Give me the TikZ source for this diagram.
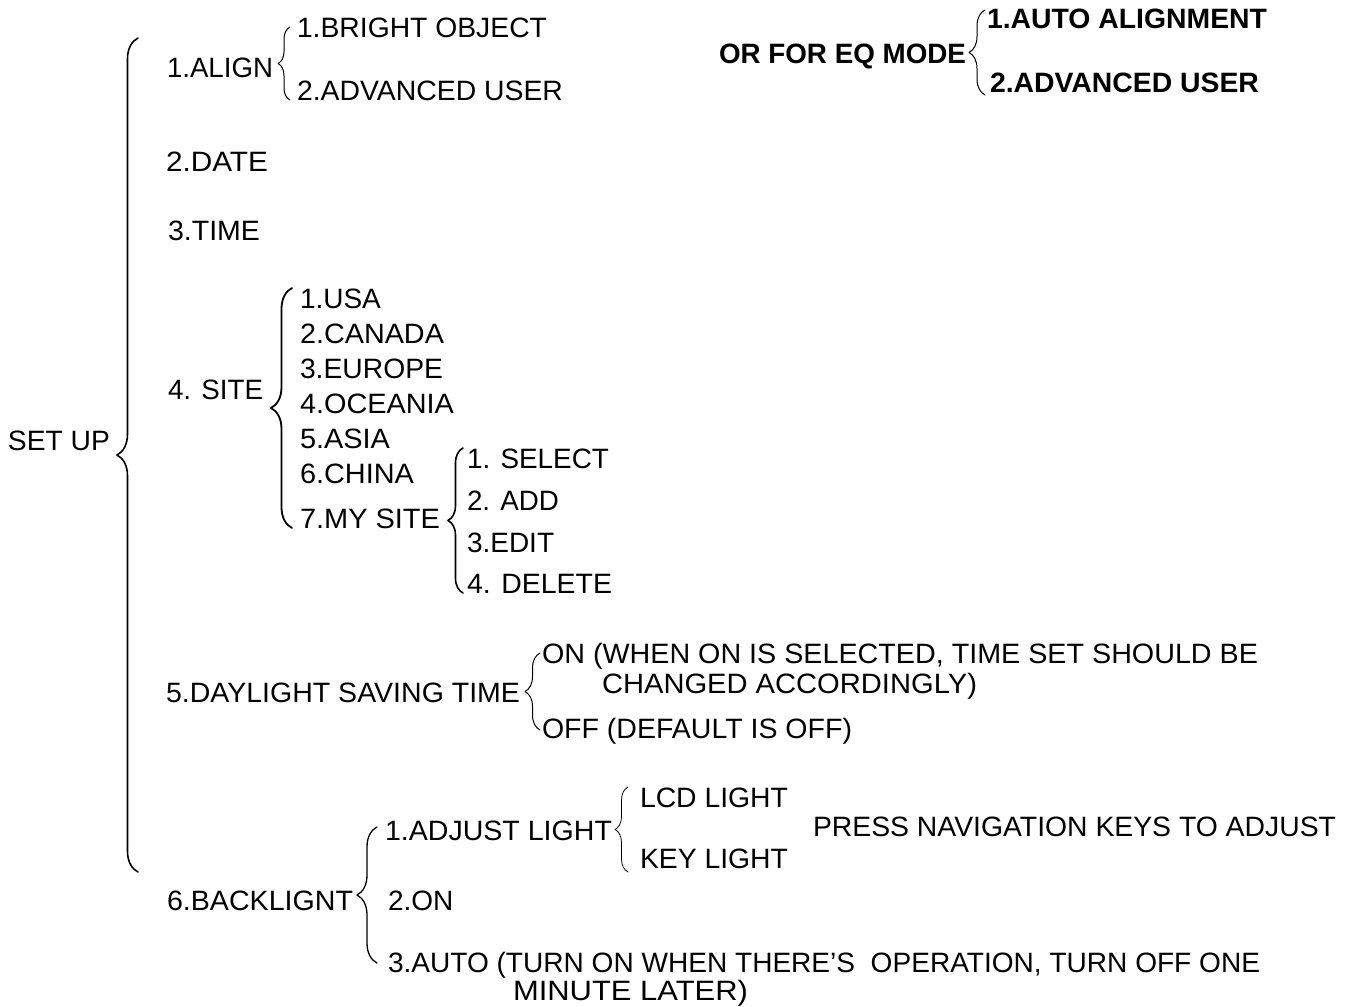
\documentclass[tikz,border=0pt]{standalone}
\usepackage{fontspec}
\usepackage{graphicx}
\setmainfont{Liberation Sans}
\usetikzlibrary{decorations.pathreplacing}
\newsavebox\fitbox
\newcommand\fitto[2]{\sbox\fitbox{#2}\pgfmathsetmacro\fitf{#1/\wd\fitbox}\scalebox{\fitf}[1]{\usebox\fitbox}}
\tikzset{
  lbl/.style={inner sep=0pt, outer sep=0pt, anchor=base west, font=\fontsize{28}{30}\selectfont},
  blbl/.style={lbl, font=\fontsize{28}{30}\selectfont\bfseries},
  curly/.style={draw, line width=#1, decorate, line cap=round, line join=round},
  amp/.style={decoration={brace, amplitude=#1}},
}
\begin{document}
\begin{tikzpicture}[x=1pt, y=-1pt]
\useasboundingbox (0,0) rectangle (1353,1007);
% nodes
\node[lbl] (setup) at (8,450) {\fitto{102}{SET UP}};
\node[lbl] (align) at (167,77) {\fitto{106}{1.ALIGN}};
\node[lbl] (bright) at (297,37) {\fitto{250}{1.BRIGHT OBJECT}};
\node[lbl] (adv) at (297,100) {\fitto{266}{2.ADVANCED USER}};
\node[blbl] (eqmode) at (719,63) {\fitto{247}{OR FOR EQ MODE}};
\node[blbl] (auto) at (987,28) {\fitto{280}{1.AUTO ALIGNMENT}};
\node[blbl] (adv2) at (990,92) {\fitto{269}{2.ADVANCED USER}};
\node[lbl] (date) at (166,171) {\fitto{102}{2.DATE}};
\node[lbl] (time) at (168,240) {\fitto{92}{3.TIME}};
\node[lbl] (site) at (168,399) {\fitto{95}{4. SITE}};
\node[lbl] (usa) at (300,308) {1.USA};
\node[lbl] (canada) at (300,343) {\fitto{144}{2.CANADA}};
\node[lbl] (europe) at (300,378) {\fitto{143}{3.EUROPE}};
\node[lbl] (oceania) at (300,413) {\fitto{154}{4.OCEANIA}};
\node[lbl] (asia) at (300,448) {\fitto{90}{5.ASIA}};
\node[lbl] (china) at (300,483) {\fitto{114}{6.CHINA}};
\node[lbl] (mysite) at (300,528) {\fitto{140}{7.MY SITE}};
\node[lbl] (select) at (467,468) {\fitto{142}{1. SELECT}};
\node[lbl] (add) at (467,510) {\fitto{92}{2. ADD}};
\node[lbl] (edit) at (467,552) {3.EDIT};
\node[lbl] (delete) at (467,593) {\fitto{145}{4. DELETE}};
\node[lbl] (dst) at (166,702) {\fitto{354}{5.DAYLIGHT SAVING TIME}};
\node[lbl] (on) at (542,663) {\fitto{716}{ON (WHEN ON IS SELECTED, TIME SET SHOULD BE}};
\node[lbl] (changed) at (602,693) {\fitto{375}{CHANGED ACCORDINGLY)}};
\node[lbl] (off) at (542,738) {\fitto{310}{OFF (DEFAULT IS OFF)}};
\node[lbl] (backlight) at (167,910) {\fitto{186}{6.BACKLIGNT}};
\node[lbl] (adjust) at (385,840) {\fitto{227}{1.ADJUST LIGHT}};
\node[lbl] (lcd) at (640,807) {\fitto{148}{LCD LIGHT}};
\node[lbl] (key) at (640,868) {\fitto{148}{KEY LIGHT}};
\node[lbl] (press) at (813,836) {\fitto{523}{PRESS NAVIGATION KEYS TO ADJUST}};
\node[lbl] (on2) at (388,910) {2.ON};
\node[lbl] (autoo) at (388,972) {\fitto{872}{3.AUTO (TURN ON WHEN THERE’S\ \ OPERATION, TURN OFF ONE}};
\node[lbl] (minute) at (513,1000) {\fitto{235}{MINUTE LATER)}};
% brace end points
\coordinate (bigT) at (138,38);   \coordinate (bigB) at (138,872);
\coordinate (alT) at (290,27);    \coordinate (alB) at (290,100);
\coordinate (eqT) at (985,10);    \coordinate (eqB) at (985,95);
\coordinate (siT) at (292,288);   \coordinate (siB) at (292,528);
\coordinate (msT) at (463,448);   \coordinate (msB) at (463,593);
\coordinate (dsT) at (540,653);   \coordinate (dsB) at (540,730);
\coordinate (blT) at (377,827);   \coordinate (blB) at (377,963);
\coordinate (lcT) at (628,787);   \coordinate (lcB) at (628,872);
% braces
\draw[curly=1.6pt, amp=21pt] (bigB) -- (bigT);
\draw[curly=1pt, amp=12pt] (alB) -- (alT);
\draw[curly=1pt, amp=16pt] (eqB) -- (eqT);
\draw[curly=1.8pt, amp=21pt] (siB) -- (siT);
\draw[curly=1.6pt, amp=15pt] (msB) -- (msT);
\draw[curly=1pt, amp=15pt] (dsB) -- (dsT);
\draw[curly=1.3pt, amp=20pt] (blB) -- (blT);
\draw[curly=0.8pt, amp=13pt] (lcB) -- (lcT);
\end{tikzpicture}
\end{document}
